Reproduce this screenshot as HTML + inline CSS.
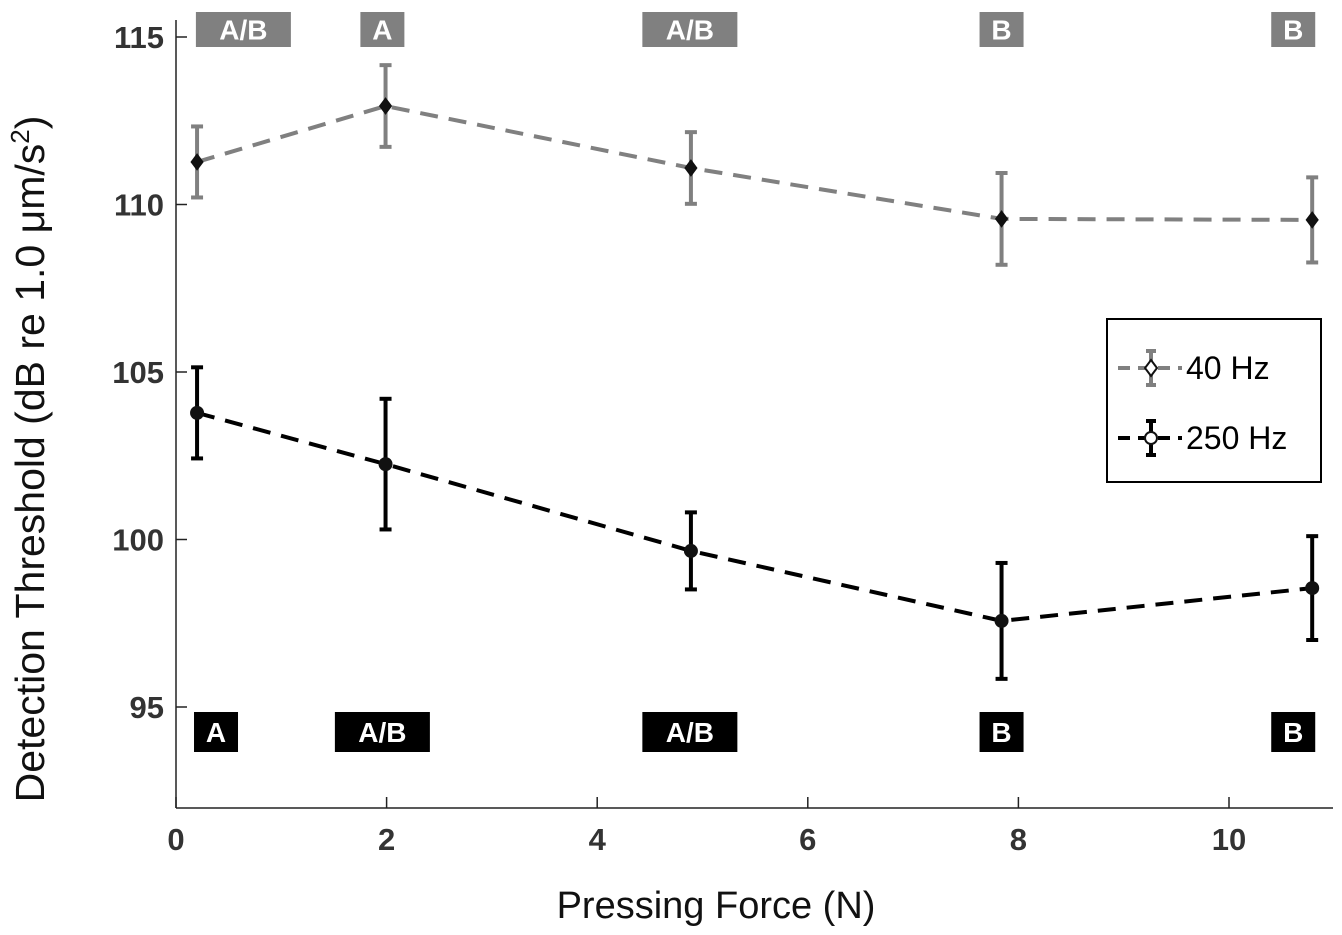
<!DOCTYPE html>
<html><head><meta charset="utf-8"><style>
body{margin:0;background:#fff;}
svg text{font-family:"Liberation Sans","NanumGothic",sans-serif;}
</style></head><body>
<svg id="chart" width="1342" height="930" xmlns="http://www.w3.org/2000/svg"></svg>
<script>
const forces = [0.2, 1.99, 4.89, 7.84, 10.79];
const hz40 = [111.27, 112.94, 111.09, 109.57, 109.54];
const hz40err = [1.06, 1.22, 1.07, 1.37, 1.27];
const hz250 = [103.78, 102.25, 99.66, 97.57, 98.55];
const hz250err = [1.36, 1.95, 1.15, 1.73, 1.55];
const labels40 = ["A/B", "A", "A/B", "B", "B"];
const labels250 = ["A", "A/B", "A/B", "B", "B"];
const labelPos40 = [0.64, 1.96, 4.88, 7.84, 10.61];
const labelPos250 = [0.38, 1.96, 4.88, 7.84, 10.61];
const xTicks = [0, 2, 4, 6, 8, 10];
const yTicks = [95, 100, 105, 110, 115];

const NS = "http://www.w3.org/2000/svg";
const svg = document.getElementById("chart");
const X = v => 176 + v * 105.3;
const Y = v => 37 + (115 - v) * 33.5;
function mk(tag, attrs, parent) {
  const e = document.createElementNS(NS, tag);
  for (const k in attrs) e.setAttribute(k, attrs[k]);
  (parent || svg).appendChild(e);
  return e;
}
let a = mk("line", {x1:176, y1:808, x2:1333, y2:808, stroke:"#222", "stroke-width":1.5});


a = mk("line", {x1:176, y1:20, x2:176, y2:808, stroke:"#222", "stroke-width":1.5});


xTicks.forEach(t => {
  mk("line", {x1:X(t), y1:808, x2:X(t), y2:797, stroke:"#222", "stroke-width":1.5});
  const tx = mk("text", {x:X(t), y:850, "text-anchor":"middle", "font-size":31, "font-weight":"bold", fill:"#333"});
  tx.textContent = t;
  
  
});
yTicks.forEach(t => {
  mk("line", {x1:176, y1:Y(t), x2:187, y2:Y(t), stroke:"#222", "stroke-width":1.5});
  const tx = mk("text", {x:164, y:Y(t)+11, "text-anchor":"end", "font-size":31, "font-weight":"bold", fill:"#333"});
  tx.textContent = t;
  
  
});
let t = mk("text", {x:716, y:918, "text-anchor":"middle", "font-size":38, fill:"#111"});
t.textContent = "Pressing Force (N)";


t = mk("text", {x:0, y:0, transform:"translate(44,459) rotate(-90)", "text-anchor":"middle", "font-size":41, fill:"#111"});
t.innerHTML = 'Detection Threshold (dB re 1.0 μm/s<tspan dy="-15" font-size="26">2</tspan><tspan dy="15">)</tspan>';



function series(vals, errs, color, marker, name) {
  const g = mk("g", {});
  
  
  mk("polyline", {points: forces.map((f,i)=>X(f)+","+Y(vals[i])).join(" "), fill:"none", stroke:color, "stroke-width":4, "stroke-dasharray":"18,11"}, g);
  forces.forEach((f,i) => {
    const x = X(f), y1 = Y(vals[i]+errs[i]), y2 = Y(vals[i]-errs[i]);
    mk("line", {x1:x, y1:y1, x2:x, y2:y2, stroke:color, "stroke-width":4}, g);
    mk("line", {x1:x-6, y1:y1, x2:x+6, y2:y1, stroke:color, "stroke-width":4}, g);
    mk("line", {x1:x-6, y1:y2, x2:x+6, y2:y2, stroke:color, "stroke-width":4}, g);
    const y = Y(vals[i]);
    let m;
    if (marker === "d") m = mk("polygon", {points:`${x},${y-8} ${x+6},${y} ${x},${y+8} ${x-6},${y}`, fill:"#111", stroke:"#111", "stroke-width":1}, g);
    else m = mk("circle", {cx:x, cy:y, r:7, fill:"#111"}, g);
    
    
  });
}
series(hz40, hz40err, "#808080", "d", "series-40hz");
series(hz250, hz250err, "#000", "o", "series-250hz");

function box(label, f, yc, h, bg, name) {
  const w = label.length > 1 ? 95 : 44;
  const r = mk("rect", {x:X(f)-w/2, y:yc-h/2, width:w, height:h, fill:bg});
  
  
  const tx = mk("text", {x:X(f), y:yc+10, "text-anchor":"middle", "font-size":28, "font-weight":"bold", fill:"#fff"});
  tx.textContent = label;
}
labels40.forEach((l,i) => box(l, labelPos40[i], 29.5, 35, "#808080", "group-label-40hz"));
labels250.forEach((l,i) => box(l, labelPos250[i], 732, 40, "#000", "group-label-250hz"));

const lg = mk("g", {});


mk("rect", {x:1107, y:319, width:214, height:163, fill:"#fff", stroke:"#000", "stroke-width":2}, lg);
[[368, "#808080", "d", "40 Hz"], [438, "#000", "o", "250 Hz"]].forEach(([y, c, m, l]) => {
  mk("line", {x1:1118, y1:y, x2:1182, y2:y, stroke:c, "stroke-width":4, "stroke-dasharray":"12,8"}, lg);
  mk("line", {x1:1151, y1:y-17, x2:1151, y2:y+17, stroke:c, "stroke-width":4}, lg);
  mk("line", {x1:1146, y1:y-17, x2:1156, y2:y-17, stroke:c, "stroke-width":4}, lg);
  mk("line", {x1:1146, y1:y+17, x2:1156, y2:y+17, stroke:c, "stroke-width":4}, lg);
  if (m === "d") mk("polygon", {points:`1151,${y-8} 1157,${y} 1151,${y+8} 1145,${y}`, fill:"#fff", stroke:"#111", "stroke-width":2}, lg);
  else mk("circle", {cx:1151, cy:y, r:6, fill:"#fff", stroke:"#111", "stroke-width":2}, lg);
  const tx = mk("text", {x:1186, y:y+11, "font-size":32, fill:"#000"}, lg);
  tx.textContent = l;
  
  
});
</script>
</body></html>
